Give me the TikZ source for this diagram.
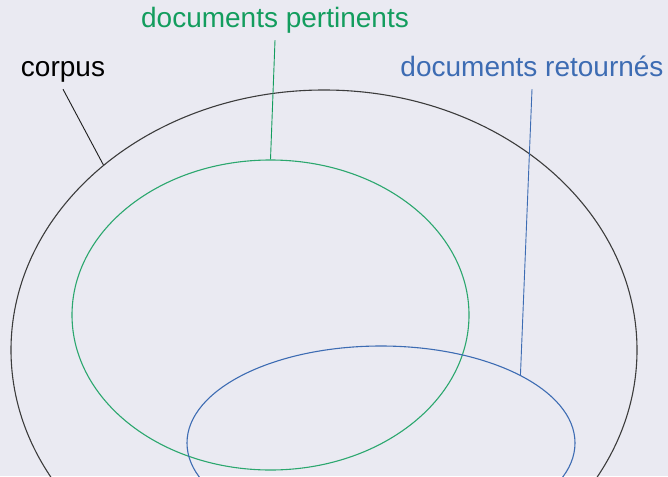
\documentclass[tikz,border=0pt]{standalone}
\usepackage{fontspec}
\setmainfont{Liberation Sans}
\usetikzlibrary{shapes.geometric}
\definecolor{bg}{HTML}{EAEAF2}
\definecolor{corpcol}{HTML}{1A1A1A}
\definecolor{pertcol}{HTML}{139D5E}
\definecolor{retcol}{HTML}{3D6CB3}
\tikzset{
  setshape/.style={ellipse, draw, line width=1.1pt, inner sep=0pt, fill=none},
  lbl/.style={anchor=base, font=\fontsize{28}{30}\selectfont, text depth=6pt, inner sep=6pt},
  leader/.style={line width=0.9pt}
}
\begin{document}
\begin{tikzpicture}[x=1pt,y=-1pt]
\fill[bg] (0,0) rectangle (668,476);
\useasboundingbox (0,0) rectangle (668,476);
\begin{scope}
\clip (0,0) rectangle (668,476);
\node[setshape, draw=corpcol!85, minimum width=626pt, minimum height=520pt] (corp) at (324,350) {};
\node[setshape, draw=pertcol!90, minimum width=397pt, minimum height=310pt] (pert) at (270.5,315) {};
\node[setshape, draw=retcol, minimum width=388pt, minimum height=194pt] (ret) at (381,443) {};
\end{scope}
\node[lbl, text=black] (lcorp) at (63,77) {corpus};
\node[lbl, text=pertcol] (lpert) at (275,28) {documents pertinents};
\node[lbl, text=retcol] (lret) at (532,77) {documents retournés};
\draw[leader, draw=corpcol] (lcorp.south) -- (corp.140.3);
\draw[leader, draw=pertcol] (lpert.south) -- (pert.north);
\draw[leader, draw=retcol] (lret.south) -- (ret.26.7);
\end{tikzpicture}
\end{document}
